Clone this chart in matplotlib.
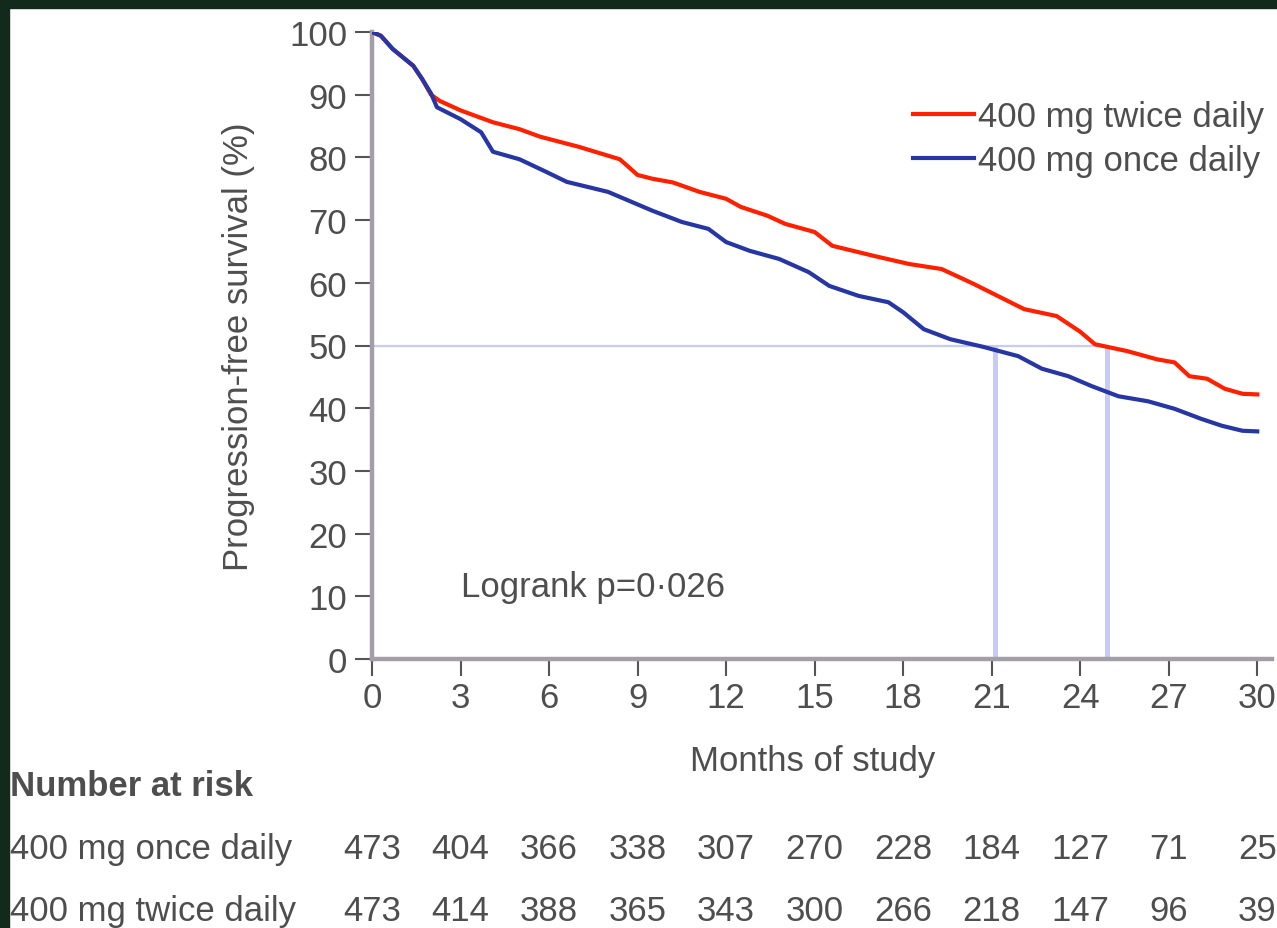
import matplotlib
matplotlib.use("Agg")
import matplotlib.pyplot as plt
import matplotlib.transforms as mtransforms
from matplotlib.patches import Rectangle

plt.rcParams['font.family'] = ['Liberation Sans', 'DejaVu Sans']

# Kaplan-Meier curves
months_twice = [0, 0.3, 0.7, 1.4, 1.7, 2.0, 2.3, 3.0, 4.1, 5.0, 5.7, 7.0, 8.4, 9.0, 9.5, 10.2,
                11.1, 12.0, 12.5, 13.4, 14.0, 15.0, 15.6, 17.0, 18.2, 19.3, 19.9, 20.4, 22.1,
                23.2, 24.0, 24.5, 25.6, 26.6, 27.2, 27.7, 28.3, 28.9, 29.5, 30.0]
pfs_twice = [100, 99.4, 97.3, 94.6, 92.5, 90.0, 89.0, 87.5, 85.6, 84.5, 83.3, 81.7, 79.7, 77.2,
             76.6, 76.0, 74.5, 73.4, 72.1, 70.7, 69.4, 68.1, 65.9, 64.3, 63.0, 62.2, 60.9, 59.8,
             55.8, 54.7, 52.2, 50.2, 49.1, 47.8, 47.3, 45.1, 44.7, 43.1, 42.3, 42.2]

months_once = [0, 0.3, 0.7, 1.4, 1.7, 2.0, 2.2, 3.0, 3.7, 4.1, 5.0, 5.9, 6.6, 8.0, 9.5, 10.5,
               11.4, 12.0, 12.8, 13.8, 14.8, 15.5, 16.5, 17.5, 18.0, 18.7, 19.6, 20.7, 21.9,
               22.7, 23.6, 24.4, 25.3, 26.3, 27.2, 28.1, 28.8, 29.5, 30.0]
pfs_once = [100, 99.4, 97.3, 94.6, 92.5, 90.2, 88.0, 86.1, 84.0, 80.9, 79.7, 77.7, 76.1, 74.5,
            71.5, 69.7, 68.6, 66.5, 65.1, 63.8, 61.7, 59.5, 57.9, 56.9, 55.3, 52.6, 51.0, 49.8,
            48.3, 46.3, 45.1, 43.5, 41.9, 41.1, 39.9, 38.3, 37.2, 36.4, 36.3]

# medians
median_once = 21.1
median_twice = 24.9

# number at risk table
risk_months = [0, 3, 6, 9, 12, 15, 18, 21, 24, 27, 30]
risk_once = [473, 404, 366, 338, 307, 270, 228, 184, 127, 71, 25]
risk_twice = [473, 414, 388, 365, 343, 300, 266, 218, 147, 96, 39]

text_col = '#4e4e4e'
axis_col = '#a49ea8'
ref_col = '#c8ccf5'
red = '#ff2000'
blue = '#2636a4'
fs = 25

fig = plt.figure(figsize=(12.77, 9.29), dpi=100)
W, H = 1277, 929
ax = fig.add_axes([372 / W, (H - 660) / H, (1272 - 372) / W, (660 - 33) / H])

# dark frame top and left
fig.patches.append(Rectangle((0, 1 - 9 / H), 1, 9 / H, transform=fig.transFigure,
                             color='#13291b', zorder=0))
fig.patches.append(Rectangle((0, 0), 9 / W, 1, transform=fig.transFigure,
                             color='#13291b', zorder=0))

# median reference lines
ax.plot([0, median_twice], [50, 50], color=ref_col, lw=1.6, zorder=1)
ax.vlines([median_once, median_twice], 0, 50, color=ref_col, lw=3.6, zorder=1)

ax.plot(months_twice, pfs_twice, color=red, lw=3, label='400 mg twice daily', zorder=3)
ax.plot(months_once, pfs_once, color=blue, lw=3, label='400 mg once daily', zorder=3)

ax.set_xlim(0, 30.5)
ax.set_ylim(0, 100)
ax.set_xticks(risk_months)
ax.set_yticks(range(0, 101, 10))

for s in ['top', 'right']:
    ax.spines[s].set_visible(False)
for s in ['left', 'bottom']:
    ax.spines[s].set_color(axis_col)
    ax.spines[s].set_linewidth(3.2)
ax.tick_params(axis='both', colors='#555555', labelcolor=text_col, labelsize=fs,
               length=12, width=1.5)
ax.tick_params(axis='x', pad=4)
ax.tick_params(axis='y', pad=6)

ax.set_xlabel('Months of study', fontsize=fs, color=text_col)
ax.xaxis.set_label_coords(0.49, -0.135)
ax.set_ylabel('Progression-free survival (%)', fontsize=fs, color=text_col)
ax.yaxis.set_label_coords(-0.13, 0.5)

ax.text(3.0, 11.5, 'Logrank p=0·026', fontsize=fs, color=text_col, va='center', ha='left')

leg = ax.legend(loc='upper left', bbox_to_anchor=(896 / W, (H - 84) / H),
                bbox_transform=fig.transFigure, frameon=False, fontsize=fs,
                handlelength=1.75, handletextpad=0.12, labelspacing=0.3, borderpad=0)
for t in leg.get_texts():
    t.set_color(text_col)

# number at risk table
trans = mtransforms.blended_transform_factory(ax.transData, fig.transFigure)
fig.text(10 / W, (H - 787) / H, 'Number at risk', fontsize=fs, fontweight='bold',
         color=text_col, va='center', ha='left')
fig.text(10 / W, (H - 850) / H, '400 mg once daily', fontsize=fs, color=text_col,
         va='center', ha='left')
fig.text(10 / W, (H - 912) / H, '400 mg twice daily', fontsize=fs, color=text_col,
         va='center', ha='left')
for m, a, b in zip(risk_months, risk_once, risk_twice):
    ax.text(m, (H - 850) / H, str(a), transform=trans, fontsize=fs, color=text_col,
            ha='center', va='center', clip_on=False)
    ax.text(m, (H - 912) / H, str(b), transform=trans, fontsize=fs, color=text_col,
            ha='center', va='center', clip_on=False)

fig.savefig('out.png', dpi=100, facecolor='white')
